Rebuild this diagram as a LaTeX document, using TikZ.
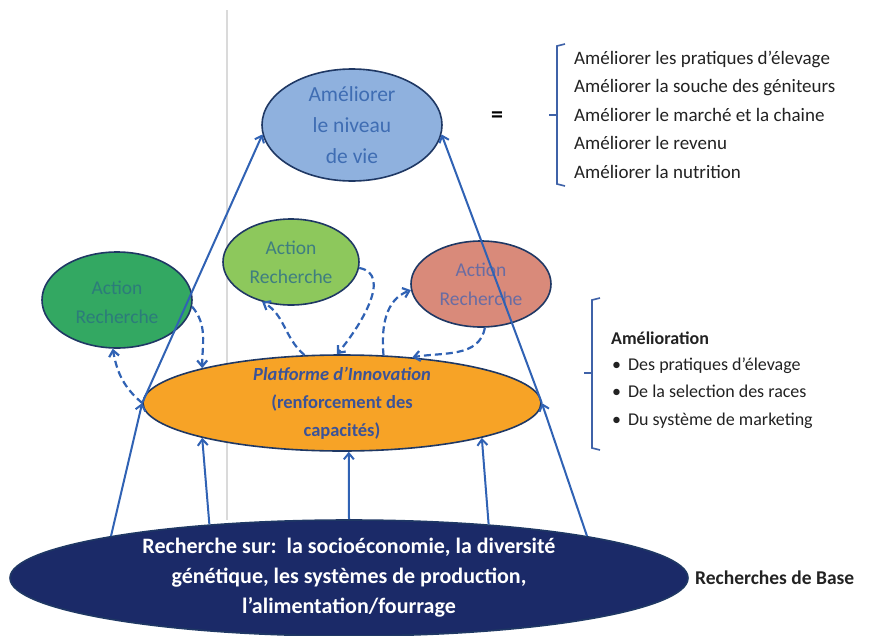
\documentclass[tikz,border=0pt]{standalone}
\usepackage{fontspec}
\setmainfont{Carlito}
\usetikzlibrary{shapes.geometric,arrows.meta}
\definecolor{arrowblue}{HTML}{3062B4}
\definecolor{edgenavy}{HTML}{1F3864}
\definecolor{topfill}{HTML}{8FB1DE}
\definecolor{toptext}{HTML}{3F6DB3}
\definecolor{lgreen}{HTML}{33A862}
\definecolor{lgreentext}{HTML}{2C7C7A}
\definecolor{mgreen}{HTML}{8DC85C}
\definecolor{mgreentext}{HTML}{3F7E80}
\definecolor{salmon}{HTML}{D98A7A}
\definecolor{salmontext}{HTML}{6A6CA2}
\definecolor{orangefill}{HTML}{F7A326}
\definecolor{orangetext}{HTML}{3B5398}
\definecolor{navyfill}{HTML}{1B2A68}
\definecolor{bracketblue}{HTML}{3F62A8}
\definecolor{gridgrey}{HTML}{DADADA}
\definecolor{darktext}{HTML}{222222}
\tikzset{
  ell/.style={ellipse, draw=edgenavy, line width=1.6pt, inner sep=0pt},
  lbl/.style={align=center, inner sep=0pt},
  solidarrow/.style={draw=arrowblue, line width=2pt, -{Straight Barb[length=6pt,width=10pt]}},
  dasharrow/.style={draw=arrowblue, line width=2.2pt, dash pattern=on 7pt off 4pt, -{Straight Barb[length=6pt,width=10pt]}},
  brack/.style={draw=bracketblue, line width=1.6pt},
  listtext/.style={align=left, inner sep=0pt, text=darktext}
}
\begin{document}
\begin{tikzpicture}[x=1pt,y=-1pt]
\useasboundingbox (0,0) rectangle (876,635);
\fill[white] (0,0) rectangle (876,635);
\draw[gridgrey, line width=1.3pt] (227,10) -- (227,520);

% ellipses
\node[ell, fill=topfill, minimum width=180pt, minimum height=112pt] (top) at (352,125) {};
\node[lbl, text=toptext, font=\fontsize{21.5}{31}\selectfont] (toptxt) at (top.center) {Améliorer\\le niveau\\de vie};

\node[ell, fill=lgreen, minimum width=150pt, minimum height=96pt] (arl) at (117,300) {};
\node[lbl, text=lgreentext, font=\fontsize{19.5}{29}\selectfont] (arltxt) at ([yshift=-2pt]arl.center) {Action\\Recherche};

\node[ell, fill=mgreen, minimum width=136pt, minimum height=86pt] (arm) at (291,262) {};
\node[lbl, text=mgreentext, font=\fontsize{19.5}{29}\selectfont] (armtxt) at (arm.center) {Action\\Recherche};

\node[ell, fill=salmon, minimum width=140pt, minimum height=86pt] (arr) at (481,284) {};
\node[lbl, text=salmontext, font=\fontsize{19.5}{29}\selectfont] (arrtxt) at (arr.center) {Action\\Recherche};

\node[ell, fill=orangefill, minimum width=398pt, minimum height=96pt] (plat) at (342,403) {};
\node[lbl, text=orangetext, font=\fontsize{18.5}{28}\selectfont\bfseries] (plattxt) at (plat.center) {\textit{Platforme d'Innovation}\\(renforcement des\\capacités)};

\node[ell, fill=navyfill, minimum width=678pt, minimum height=116pt] (base) at (349,578) {};
\node[lbl, text=white, font=\fontsize{22}{30}\selectfont\bfseries] (basetxt) at (base.center) {Recherche sur:\ \ la socioéconomie, la diversité\\génétique, les systèmes de production,\\l'alimentation/fourrage};

% right side texts
\node[inner sep=0pt, font=\fontsize{24}{24}\selectfont\bfseries] (eq) at (497,117) {=};
\draw[brack] (565,44) -- (557,46) -- (557,184) -- (565,186);
\draw[brack] (557,115) -- (549,115);
\node[listtext, anchor=base west, font=\fontsize{19}{28.5}\selectfont] (list1) at (574,178)
  {Améliorer les pratiques d'élevage\\Améliorer la souche des géniteurs\\Améliorer le marché et la chaine\\Améliorer le revenu\\Améliorer la nutrition};

\draw[brack] (600,298) -- (592,300) -- (592,448) -- (600,450);
\draw[brack] (592,373) -- (584,373);
\node[listtext, anchor=base west, font=\fontsize{18}{18}\selectfont\bfseries] (amel) at (611,344) {Amélioration};
\node[listtext, anchor=base west, font=\fontsize{18}{27.5}\selectfont] (amellist) at (612,425)
  {•\hspace{7pt}Des pratiques d'élevage\\•\hspace{7pt}De la selection des races\\•\hspace{7pt}Du système de marketing};

\node[listtext, anchor=west, font=\fontsize{19.5}{19.5}\selectfont\bfseries] (rdb) at (695,578) {Recherches de Base};

% solid arrows
\draw[solidarrow] (base.170) -- (plat.west);
\draw[solidarrow] (plat.west) -- (top.186);
\draw[solidarrow] (base.10) -- (plat.east);
\draw[solidarrow] (plat.east) -- (top.354);
\draw[solidarrow] (base.159.6) -- (plat.194.7);
\draw[solidarrow] (base.90) -- (plat.278.3);
\draw[solidarrow] (base.21.5) -- (plat.346.7);

% dashed arrows
\draw[dasharrow] (arl.355) to[out=-50,in=90] (plat.166.7);
\draw[dasharrow] (plat.west) to[out=140,in=-80] (arl.265);
\draw[dasharrow] (plat.128) to[out=140,in=-30] (arm.234);
\draw[dasharrow] (arm.355) to[out=-10,in=50] (plat.96);
\draw[dasharrow] (plat.49) to[out=95,in=200] (arr.185);
\draw[dasharrow] (arr.275) to[out=-100,in=10] (plat.33.5);
\end{tikzpicture}
\end{document}
